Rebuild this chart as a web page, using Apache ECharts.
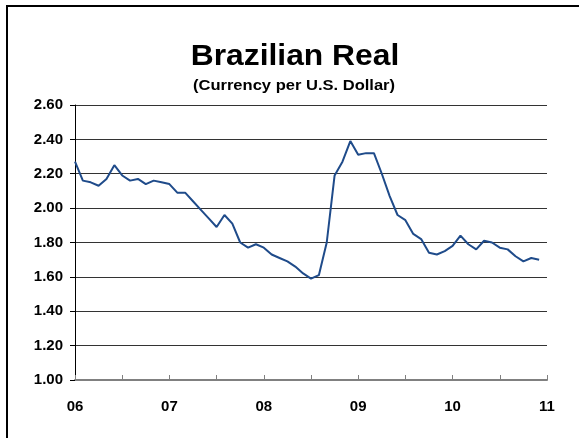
<!DOCTYPE html>
<html>
<head>
<meta charset="utf-8">
<script src="https://cdn.jsdelivr.net/npm/echarts@6/dist/echarts.min.js"></script>
<style>html,body{margin:0;padding:0;background:#fff;}#c{width:579px;height:438px;}</style>
</head>
<body>
<div id="c"></div>
<script>
var titleText = "Brazilian Real";
var subtitleText = "(Currency per U.S. Dollar)";
var yearLabels = ["06", "07", "08", "09", "10", "11"];
var yTicks = [1.00, 1.20, 1.40, 1.60, 1.80, 2.00, 2.20, 2.40, 2.60];
var v2006 = [2.27, 2.16, 2.15, 2.13, 2.17, 2.25, 2.19, 2.16, 2.17, 2.14, 2.16, 2.15];
var v2007 = [2.14, 2.09, 2.09, 2.04, 1.99, 1.94, 1.89, 1.96, 1.91, 1.80, 1.77, 1.79];
var v2008 = [1.77, 1.73, 1.71, 1.69, 1.66, 1.62, 1.59, 1.61, 1.80, 2.19, 2.27, 2.39];
var v2009 = [2.31, 2.32, 2.32, 2.20, 2.07, 1.96, 1.93, 1.85, 1.82, 1.74, 1.73, 1.75];
var v2010 = [1.78, 1.84, 1.79, 1.76, 1.81, 1.80, 1.77, 1.76, 1.72, 1.69, 1.71, 1.70];

var monthly = [].concat(v2006, v2007, v2008, v2009, v2010);
var seriesData = monthly.map(function (v, i) { return [i, v]; });

var FONT = '"Liberation Sans", Arial, sans-serif';
var chart = echarts.init(document.getElementById('c'), null, {renderer: 'canvas'});
chart.setOption({
  animation: false,
  backgroundColor: '#ffffff',
  graphic: [
    {type: 'rect', shape: {x: 7, y: 6, width: 700, height: 600},
     style: {fill: 'none', stroke: '#000', lineWidth: 2}, silent: true},
    {type: 'text', x: 295, y: 57, scaleX: 1.06, style: {text: titleText, fontFamily: FONT, fontWeight: 'bold',
      fontSize: 30, fill: '#000', align: 'center', verticalAlign: 'middle'}},
    {type: 'text', x: 294, y: 86, scaleX: 1.14, style: {text: subtitleText, fontFamily: FONT, fontWeight: 'bold',
      fontSize: 14.5, fill: '#000', align: 'center', verticalAlign: 'middle'}}
  ],
  grid: {left: 75, top: 105, right: 32, bottom: 58, containLabel: false},
  xAxis: {
    type: 'value', min: 0, max: 60, interval: 6,
    axisLine: {show: true, lineStyle: {color: '#808080', width: 2}},
    axisTick: {show: true, inside: true, length: 5, lineStyle: {color: '#808080', width: 1}},
    splitLine: {show: false},
    axisLabel: {
      margin: 19, fontFamily: FONT, fontWeight: 'bold', fontSize: 15, color: '#000',
      formatter: function (v) { return v % 12 === 0 ? yearLabels[v / 12] : ''; }
    }
  },
  yAxis: {
    type: 'value', min: yTicks[0], max: yTicks[yTicks.length - 1], interval: 0.2,
    axisLine: {show: true, lineStyle: {color: '#000', width: 1}},
    axisTick: {show: true, length: 5, lineStyle: {color: '#000'}},
    splitLine: {show: true, lineStyle: {color: '#333333', width: 1}},
    axisLabel: {
      margin: 12, fontFamily: FONT, fontWeight: 'bold', fontSize: 15, color: '#000',
      formatter: function (v) { return v.toFixed(2); }
    }
  },
  series: [{
    type: 'line', data: seriesData, showSymbol: false, smooth: false,
    lineStyle: {color: '#1f4b8a', width: 2}, z: 5
  }]
});
</script>
</body>
</html>
